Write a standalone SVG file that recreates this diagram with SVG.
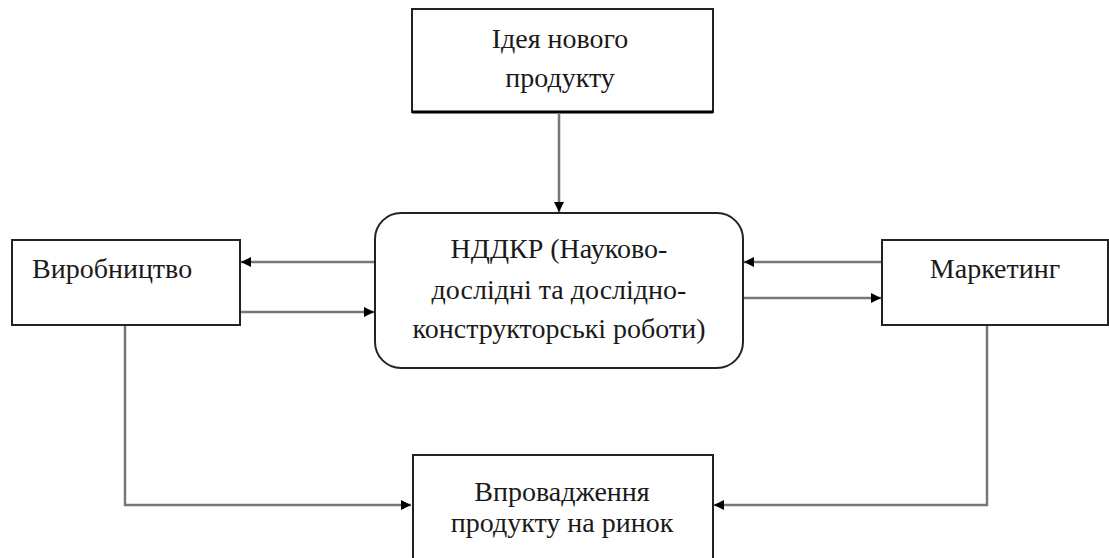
<svg xmlns="http://www.w3.org/2000/svg" width="1109" height="558" viewBox="0 0 1109 558">
<defs>
<marker id="ah" viewBox="0 0 10 10" refX="10" refY="5" markerWidth="12" markerHeight="10" markerUnits="userSpaceOnUse" orient="auto">
<path d="M0,0 L10,5 L0,10 z" fill="#000"/>
</marker>
<style>
.box{fill:#fff;stroke:#222;stroke-width:2}
.t{font-size:28px;fill:#1a1a1a}
.c{text-anchor:middle}
.ln{fill:none;stroke:#777;stroke-width:2.5;marker-end:url(#ah)}
</style>
</defs>
<rect width="1109" height="558" fill="#fff"/>
<g id="connectors">
<line class="ln" x1="559" y1="114" x2="559" y2="212"/>
<line class="ln" x1="375" y1="262" x2="241" y2="262"/>
<line class="ln" x1="240" y1="312" x2="374" y2="312"/>
<line class="ln" x1="882" y1="262" x2="744" y2="262"/>
<line class="ln" x1="743" y1="298" x2="881" y2="298"/>
<polyline class="ln" points="125,325 125,505 411,505"/>
<polyline class="ln" points="987,325 987,505 714,505"/>
</g>
<g font-family="Liberation Serif, DejaVu Serif, serif">
<g id="idea">
<rect class="box" x="412" y="9" width="301" height="103"/>
<line x1="412" y1="112" x2="713" y2="112" stroke="#000" stroke-width="3"/>
<text class="t c" x="560" y="48">Ідея нового</text>
<text class="t c" x="560" y="87">продукту</text>
</g>
<g id="ndkr">
<rect class="box" x="375" y="213" width="368" height="155" rx="26" ry="26"/>
<text class="t c" x="559" y="258">НДДКР (Науково-</text>
<text class="t c" x="559" y="299">дослідні та дослідно-</text>
<text class="t c" x="559" y="338">конструкторські роботи)</text>
</g>
<g id="production">
<rect class="box" x="12" y="240" width="228" height="85"/>
<text class="t" x="32" y="278">Виробництво</text>
</g>
<g id="marketing">
<rect class="box" x="882" y="240" width="226" height="85"/>
<text class="t c" x="995" y="278">Маркетинг</text>
</g>
<g id="launch">
<rect class="box" x="413" y="455" width="300" height="110"/>
<text class="t c" x="562" y="501">Впровадження</text>
<text class="t c" x="562" y="532">продукту на ринок</text>
</g>
</g>
</svg>
